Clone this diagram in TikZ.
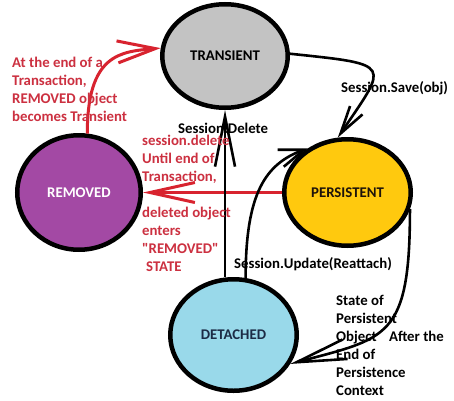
\documentclass[tikz,border=0pt]{standalone}
\usepackage{fontspec}
\setmainfont{Carlito}
\usetikzlibrary{shapes.geometric,arrows.meta}
\definecolor{transgray}{HTML}{C3C3C3}
\definecolor{persgold}{HTML}{FFC90E}
\definecolor{rempurple}{HTML}{A349A4}
\definecolor{detblue}{HTML}{99D9EA}
\definecolor{arrowred}{HTML}{D8232F}
\definecolor{textred}{HTML}{CC3040}
\definecolor{detink}{HTML}{1C2B45}
\begin{document}
\begin{tikzpicture}[x=1pt,y=1pt,
  state/.style={ellipse, draw=black, line width=4.5pt, inner sep=0pt,
    font=\fontsize{14.8}{18}\selectfont\bfseries},
  blackarrow/.style={draw=black, line width=2.6pt},
  redarrow/.style={draw=arrowred, line width=3pt},
  redtext/.style={anchor=base west, inner sep=0pt, align=left, text=textred,
    font=\fontsize{14.8}{18}\selectfont\bfseries},
  blacktext/.style={anchor=base west, inner sep=0pt, align=left, text=black,
    font=\fontsize{14.8}{18}\selectfont\bfseries}]
\useasboundingbox (0,0) rectangle (454,400);
\fill[white] (0,0) rectangle (454,400);

% states
\node[state, fill=transgray, minimum width=125.5pt, minimum height=103.5pt] (T) at (225,344) {TRANSIENT};
\node[state, fill=persgold, minimum width=126.5pt, minimum height=106.5pt, text={black!85!brown}] (P) at (347.5,207.5) {PERSISTENT};
\node[state, fill=rempurple, minimum width=123.5pt, minimum height=114.5pt, text=white] (R) at (79,207.5) {REMOVED};
\node[state, fill=detblue, minimum width=126.5pt, minimum height=111.5pt, text=detink] (D) at (233.5,65) {DETACHED};

% red connectors
\draw[redarrow, -{Straight Barb[length=38pt,width=22pt]}]
  (R.82) .. controls +(90:80) and +(185:40) .. (T.173);
\draw[redarrow, -{Straight Barb[length=45pt,width=20pt]}]
  (P.west) -- (R.east);

% black connectors
\draw[blackarrow, -{Straight Barb[length=50pt,width=20pt]}]
  (T.south |- D.north) -- (T.south);
\draw[blackarrow, -{Straight Barb[length=28pt,width=15pt]}]
  (T.2) .. controls +(-6:105) and +(56:90) .. (P.100);
\draw[blackarrow, -{Straight Barb[length=25pt,width=18pt]}]
  (D.78) .. controls +(90:85) and +(200:45) .. (P.132);
\draw[blackarrow, -{Straight Barb[length=50pt,width=20pt]}]
  (P.-15) .. controls +(-90:130) and +(15:100) .. (D.-27);

% texts (base anchor = baseline of last line)
\node[redtext] (t1) at (12,279) {At the end of a\\Transaction,\\REMOVED object\\becomes Transient};
\node[redtext] (t2) at (142,129) {session.delete\\Until end of\\Transaction,\\[18pt]deleted object\\enters\\\textquotedbl REMOVED\textquotedbl\\\hspace{4pt}STATE};
\node[blacktext] (lsave) at (341,308) {Session.Save(obj)};
\node[blacktext] (ldel) at (178,267) {Session.Delete};
\node[blacktext] (lupd) at (234,132) {Session.Update(Reattach)};
\node[blacktext] (lend) at (336,5) {State of\\Persistent\\Object\hspace{9pt} After the\\End of\\Persistence\\Context};
\end{tikzpicture}
\end{document}
